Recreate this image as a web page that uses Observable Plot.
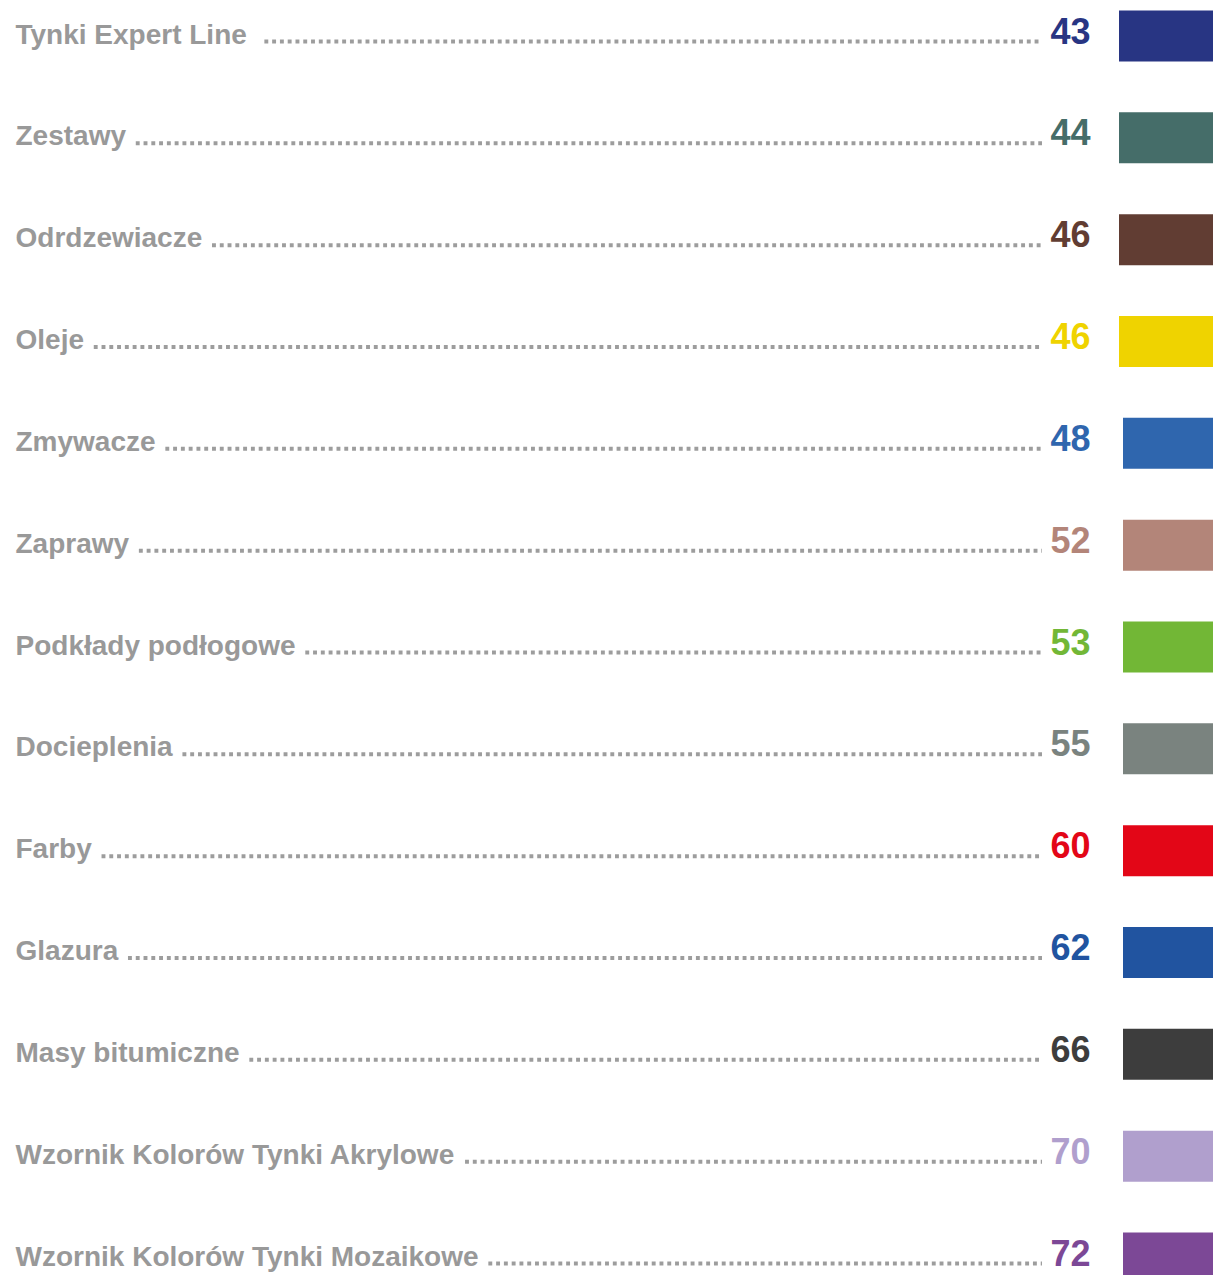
<!DOCTYPE html>
<html>
<head>
<meta charset="utf-8">
<script src="https://cdn.jsdelivr.net/npm/d3@7"></script>
<script src="https://cdn.jsdelivr.net/npm/@observablehq/plot@0.6"></script>
<style>
  html, body { margin: 0; padding: 0; background: #ffffff; overflow: hidden; }
  #chart svg { display: block; }
</style>
</head>
<body>
<div id="chart"></div>
<script>
// Table of contents entries
const names = [
  "Tynki Expert Line ",
  "Zestawy",
  "Odrdzewiacze",
  "Oleje",
  "Zmywacze",
  "Zaprawy",
  "Podkłady podłogowe",
  "Docieplenia",
  "Farby",
  "Glazura",
  "Masy bitumiczne",
  "Wzornik Kolorów Tynki Akrylowe",
  "Wzornik Kolorów Tynki Mozaikowe"
];
const pages = [43, 44, 46, 46, 48, 52, 53, 55, 60, 62, 66, 70, 72];
const colors = [
  "#283583", "#456d69", "#613d33", "#efd300", "#2f66ae", "#b38579", "#72b736",
  "#7a837f", "#e30617", "#2154a0", "#3d3d3d", "#b09fcd", "#7c4896"
];

const W = 1213, H = 1275;
const labelFont = "bold 28px 'Liberation Sans', Arial, sans-serif";
const ctx = document.createElement("canvas").getContext("2d");
ctx.font = labelFont;
const spaceW = ctx.measureText(" ").width;

const rows = names.map((name, i) => ({
  key: i,
  name,
  page: pages[i],
  color: colors[i],
  labelEnd: 15 + ctx.measureText(name).width
}));

const chart = Plot.plot({
  width: W,
  height: H,
  marginTop: 0,
  marginBottom: 0,
  marginLeft: 0,
  marginRight: 0,
  style: {background: "#ffffff"},
  x: {domain: [0, W], range: [0, W], axis: null},
  y: {type: "linear", domain: [0, names.length - 1], range: [43, 1265], axis: null},
  marks: [
    // dotted leaders
    Plot.ruleY(rows, {
      y: "key",
      x1: d => d.labelEnd + spaceW + 2.5,
      x2: 1042,
      dy: -2,
      stroke: "#9d9d9d",
      strokeWidth: 4,
      strokeDasharray: "3.9 3.88"
    }),
    // labels
    Plot.text(rows, {
      x: () => 15,
      y: "key",
      text: "name",
      textAnchor: "start",
      lineAnchor: "bottom",
      fontSize: 28,
      fontWeight: "bold",
      fontFamily: "'Liberation Sans', Arial, sans-serif",
      fill: "#999999"
    }),
    // page numbers
    Plot.text(rows, {
      x: () => 1090,
      y: "key",
      text: d => String(d.page),
      textAnchor: "end",
      lineAnchor: "bottom",
      fontSize: 36,
      fontWeight: "bold",
      fontFamily: "'Liberation Sans', Arial, sans-serif",
      fill: "color"
    }),
    // colour swatches
    Plot.ruleY(rows, {
      y: "key",
      x1: (d, i) => (i < 4 ? 1119 : 1123),
      x2: W,
      dy: -7.5,
      stroke: "color",
      strokeWidth: 51
    })
  ]
});
document.getElementById("chart").appendChild(chart);
</script>
</body>
</html>
